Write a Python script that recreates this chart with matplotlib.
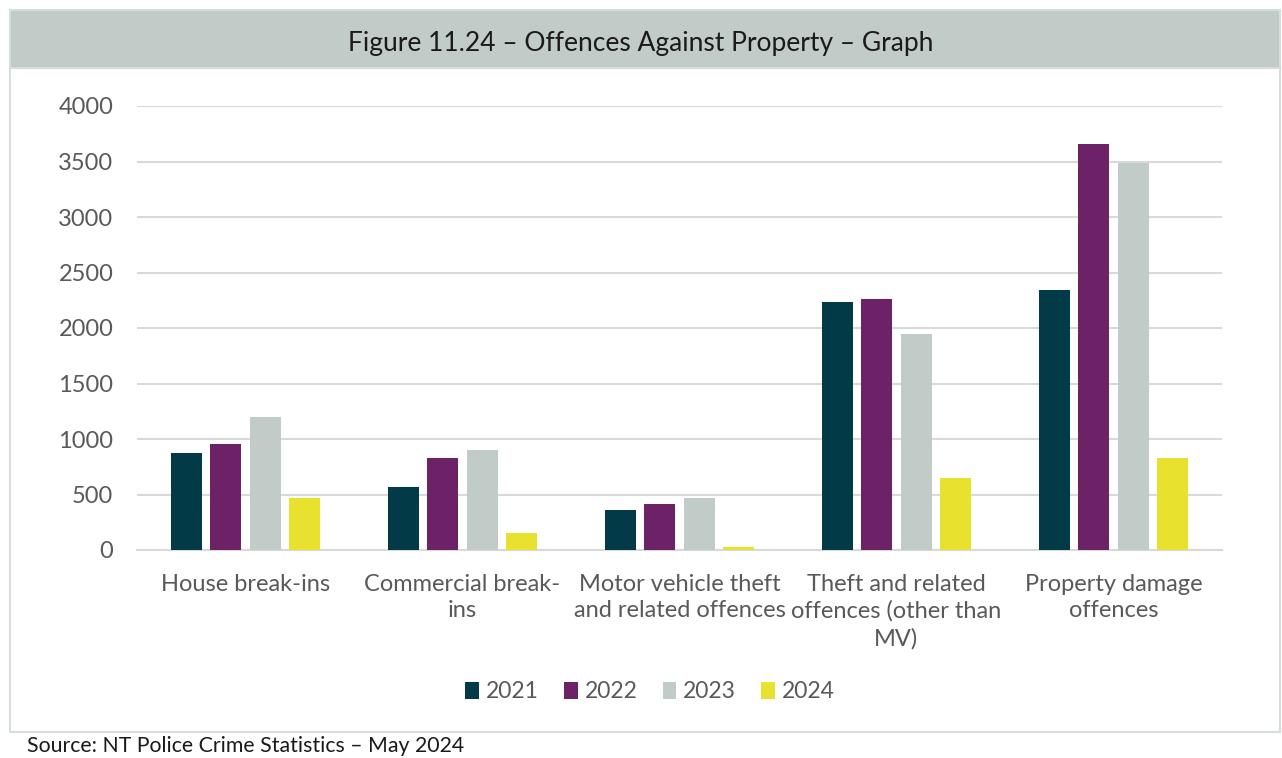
import numpy as np
import matplotlib
matplotlib.use("Agg")
import matplotlib.pyplot as plt
from matplotlib.patches import Rectangle

plt.rcParams['font.family'] = ['Lato', 'DejaVu Sans']

# offence categories and yearly counts
categories = ["House break-ins", "Commercial break-\nins", "Motor vehicle theft\nand related offences",
              "Theft and related\noffences (other than\nMV)", "Property damage\noffences"]
years = ["2021", "2022", "2023", "2024"]
counts_2021 = [871, 565, 357, 2237, 2340]
counts_2022 = [958, 832, 411, 2264, 3661]
counts_2023 = [1196, 901, 466, 1949, 3489]
counts_2024 = [466, 156, 27, 646, 826]
colours = ["#023A47", "#6D2166", "#C1CBC7", "#E8E12E"]

series = [counts_2021, counts_2022, counts_2023, counts_2024]

fig = plt.figure(figsize=(12.82, 7.58), dpi=100)

# banner and frame, laid out in pixel units
W, H = 1282, 758
def fx(px): return px / W
def fy(py): return 1 - py / H

fig.patches.append(Rectangle((fx(10), fy(68)), fx(1280) - fx(10), fy(10) - fy(68),
                             transform=fig.transFigure, facecolor="#C1CBC7", edgecolor="#D6DEDB", lw=1.5))
fig.patches.append(Rectangle((fx(10), fy(732)), fx(1280) - fx(10), fy(68) - fy(732),
                             transform=fig.transFigure, facecolor="none", edgecolor="#D6DEDB", lw=1.5))
fig.text(0.5, fy(44), "Figure 11.24 – Offences Against Property – Graph", ha="center", va="center",
         fontsize=19, color="#1a1a1a")
fig.text(fx(27), fy(746), "Source: NT Police Crime Statistics – May 2024", ha="left", va="center",
         fontsize=15.3, color="#1a1a1a")

ax = fig.add_axes([fx(137), fy(550), fx(1222) - fx(137), fy(106) - fy(550)])
x = np.arange(len(categories))
width = 0.143
pitch = 0.181
for i, (vals, c) in enumerate(zip(series, colours)):
    ax.bar(x + (i - 1.5) * pitch, vals, width, color=c, label=years[i], zorder=3)

ax.set_xlim(-0.5, len(categories) - 0.5)
ax.set_ylim(0, 4000)
ax.set_yticks(np.arange(0, 4001, 500))
ax.yaxis.grid(True, color="#D9D9D9", lw=1.5, zorder=0)
ax.tick_params(axis="y", length=0, pad=17, labelsize=17, labelcolor="#595959")
ax.set_xticks(x)
ax.set_xticklabels(categories, fontsize=17, color="#595959", linespacing=1.33)
ax.tick_params(axis="x", length=0, pad=17)
for s in ["top", "right", "left"]:
    ax.spines[s].set_visible(False)
ax.spines["bottom"].set_color("#D9D9D9")
ax.spines["bottom"].set_linewidth(1.5)

leg = fig.legend(loc="center", bbox_to_anchor=(fx(650), fy(692)), ncol=4, frameon=False,
                 fontsize=16.5, handlelength=0.6, handleheight=0.7, handletextpad=0.3, columnspacing=1.1)
for t in leg.get_texts():
    t.set_color("#595959")

fig.savefig("out.png", dpi=100)
